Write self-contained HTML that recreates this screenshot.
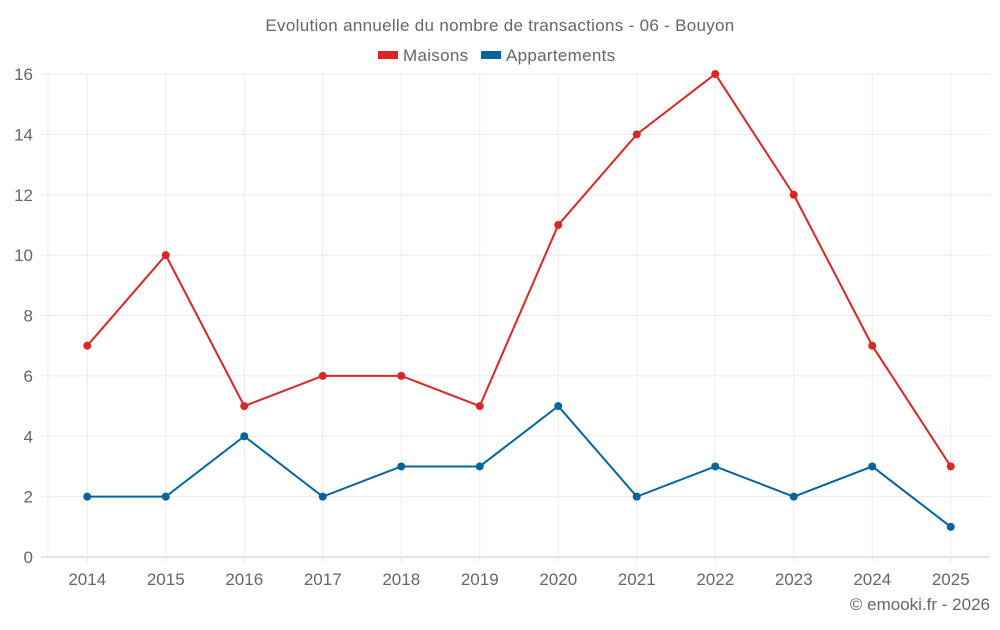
<!DOCTYPE html>
<html><head><meta charset="utf-8"><style>
body{margin:0;background:#fff;font-family:"Liberation Sans",sans-serif}
svg text{font-family:"Liberation Sans",sans-serif;fill:#666}
</style></head><body>
<svg id="c" width="1000" height="625">
<text x="500" y="31" text-anchor="middle" font-size="17" letter-spacing="0.3">Evolution annuelle du nombre de transactions - 06 - Bouyon</text>
<g>
<g><rect x="378" y="51" width="20" height="8" fill="#dc2626"/><text x="403" y="61" font-size="17" letter-spacing="0.3">Maisons</text></g>
<g><rect x="481" y="51" width="20" height="8" fill="#03649f"/><text x="506" y="61" font-size="17" letter-spacing="0.3">Appartements</text></g>
</g>
<g id="grid"></g><g id="axes"></g><g id="series"></g>
<text x="990" y="610" text-anchor="end" font-size="17">© emooki.fr - 2026</text>
</svg>
<script>
const years=["2014","2015","2016","2017","2018","2019","2020","2021","2022","2023","2024","2025"];
const maisons=[7,10,5,6,6,5,11,14,16,12,7,3];
const appartements=[2,2,4,2,3,3,5,2,3,2,3,1];
const yTicks=[0,2,4,6,8,10,12,14,16];
const NS="http://www.w3.org/2000/svg";
const L=48,R=990,T=74,B=557,yMax=16;
const bw=(R-L)/years.length;
const x=i=>L+bw*(i+0.5);
const y=v=>B-(B-T)*v/yMax;
function mk(t,a,p){const e=document.createElementNS(NS,t);for(const k in a)e.setAttribute(k,a[k]);p.appendChild(e);return e;}
const g=document.getElementById('grid'),ax=document.getElementById('axes'),s=document.getElementById('series');
yTicks.forEach(v=>{
 const l=mk('line',{x1:41,x2:R,y1:y(v),y2:y(v),stroke:v===0?'#ccc':'#ebebeb','stroke-width':1},g);
 
 
 const t=mk('text',{x:33,y:y(v)+6,'text-anchor':'end','font-size':17},ax);t.textContent=v;
 
 
});
const al=mk('line',{x1:L,x2:L,y1:T,y2:B,stroke:'#ebebeb'},g);


years.forEach((yr,i)=>{
 const l=mk('line',{x1:x(i),x2:x(i),y1:T,y2:B+6,stroke:'#ebebeb'},g);
 
 
 const t=mk('text',{x:x(i),y:585,'text-anchor':'middle','font-size':17},ax);t.textContent=yr;
 
 
});
[[maisons,'#dc2626','maisons'],[appartements,'#03649f','appartements']].forEach(([d,c,n])=>{
 const p=mk('polyline',{points:d.map((v,i)=>x(i)+','+y(v)).join(' '),fill:'none',stroke:c,'stroke-width':2},s);
 
 
 d.forEach((v,i)=>{const ci=mk('circle',{cx:x(i),cy:y(v),r:4,fill:c},s);
  
  });
});
</script>
</body></html>
